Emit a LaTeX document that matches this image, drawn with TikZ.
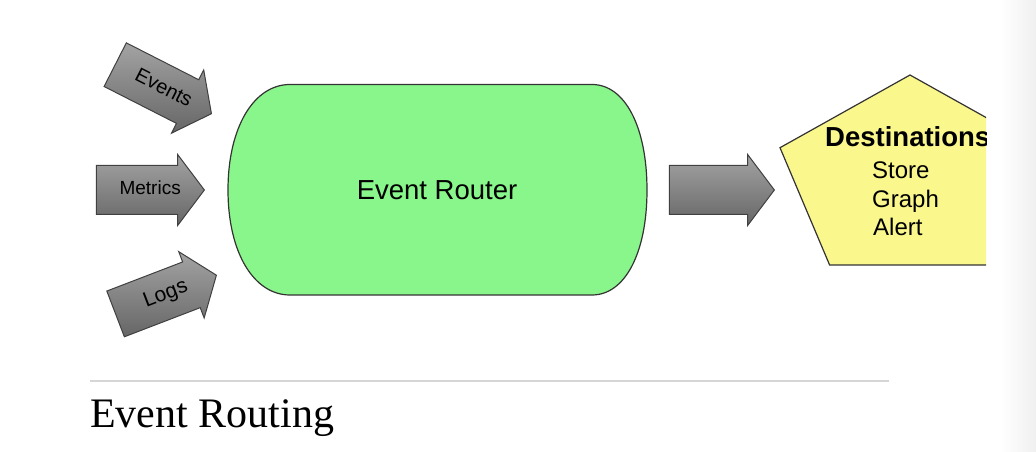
\documentclass[tikz,border=0pt]{standalone}
\usepackage{fontspec}
\setmainfont{Liberation Serif}
\newfontfamily\arialfont{Liberation Sans}
\usetikzlibrary{shapes.arrows}
\definecolor{routergreen}{RGB}{136,246,138}
\definecolor{destyellow}{RGB}{250,247,141}

\begin{document}
\begin{tikzpicture}[x=1pt,y=1pt]
   \tikzstyle{feed}=[single arrow, draw=black!75, line width=1pt, top color=black!36, bottom color=black!60, single arrow head extend=11pt, single arrow tip angle=106, minimum height=108pt, text height=14pt, text depth=4pt, inner ysep=15pt, inner xsep=0pt, font=\arialfont\fontsize{20}{22}\selectfont, execute at begin node={\hspace*{18pt}}]
   \tikzstyle{dest}=[anchor=base west, inner sep=0pt, font=\arialfont\fontsize{24}{26}\selectfont]
   \useasboundingbox (0,0) rectangle (1036,452);
   \shade[left color=white, right color=black!6] (1000,0) rectangle (1036,452);

   % inputs
   \node[feed, rotate=-27, anchor=tip] (events) at (212,338) {Events};
   \node[feed, anchor=tip, font=\arialfont\fontsize{19}{21}\selectfont] (metrics) at (205,262) {Metrics};
   \node[feed, rotate=21, anchor=tip, font=\arialfont\fontsize{21}{23}\selectfont] (logs) at (217,177) {Logs};

   % router
   \filldraw[fill=routergreen, draw=black!80, line width=1.2pt]
      (290,367.5) -- (592,367.5) .. controls (625,367.5) and (647,325) .. (647,262)
      .. controls (647,199) and (625,157) .. (592,157) -- (290,157)
      .. controls (254,157) and (228,199) .. (228,262)
      .. controls (228,325) and (254,367.5) .. (290,367.5) -- cycle;
   \node[font=\arialfont\fontsize{27.5}{30}\selectfont] (router) at (437,262) {Event Router};

   % output
   \node[feed, minimum height=105pt, anchor=tip] (out) at (775,262) {};

   \begin{scope}
      \clip (0,0) rectangle (986,452);
      \filldraw[fill=destyellow, draw=black!80, line width=1.2pt]
         (910,377) -- (1040,304.3) -- (990.4,187) -- (829.6,187) -- (780,304.3) -- cycle;
      \node[dest, font=\arialfont\bfseries\fontsize{27.5}{30}\selectfont] (desttitle) at (825,305) {Destinations};
      \node[dest] (store) at (872,273) {Store};
      \node[dest] (graph) at (872,244) {Graph};
      \node[dest] (alert) at (873,216) {Alert};
   \end{scope}

   % caption
   \draw[black!16, line width=1.5pt] (90,71) -- (889,71);
   \node[anchor=base west, inner sep=0pt, font=\fontsize{42}{46}\selectfont] (caption) at (90,24) {Event Routing};
\end{tikzpicture}
\end{document}
